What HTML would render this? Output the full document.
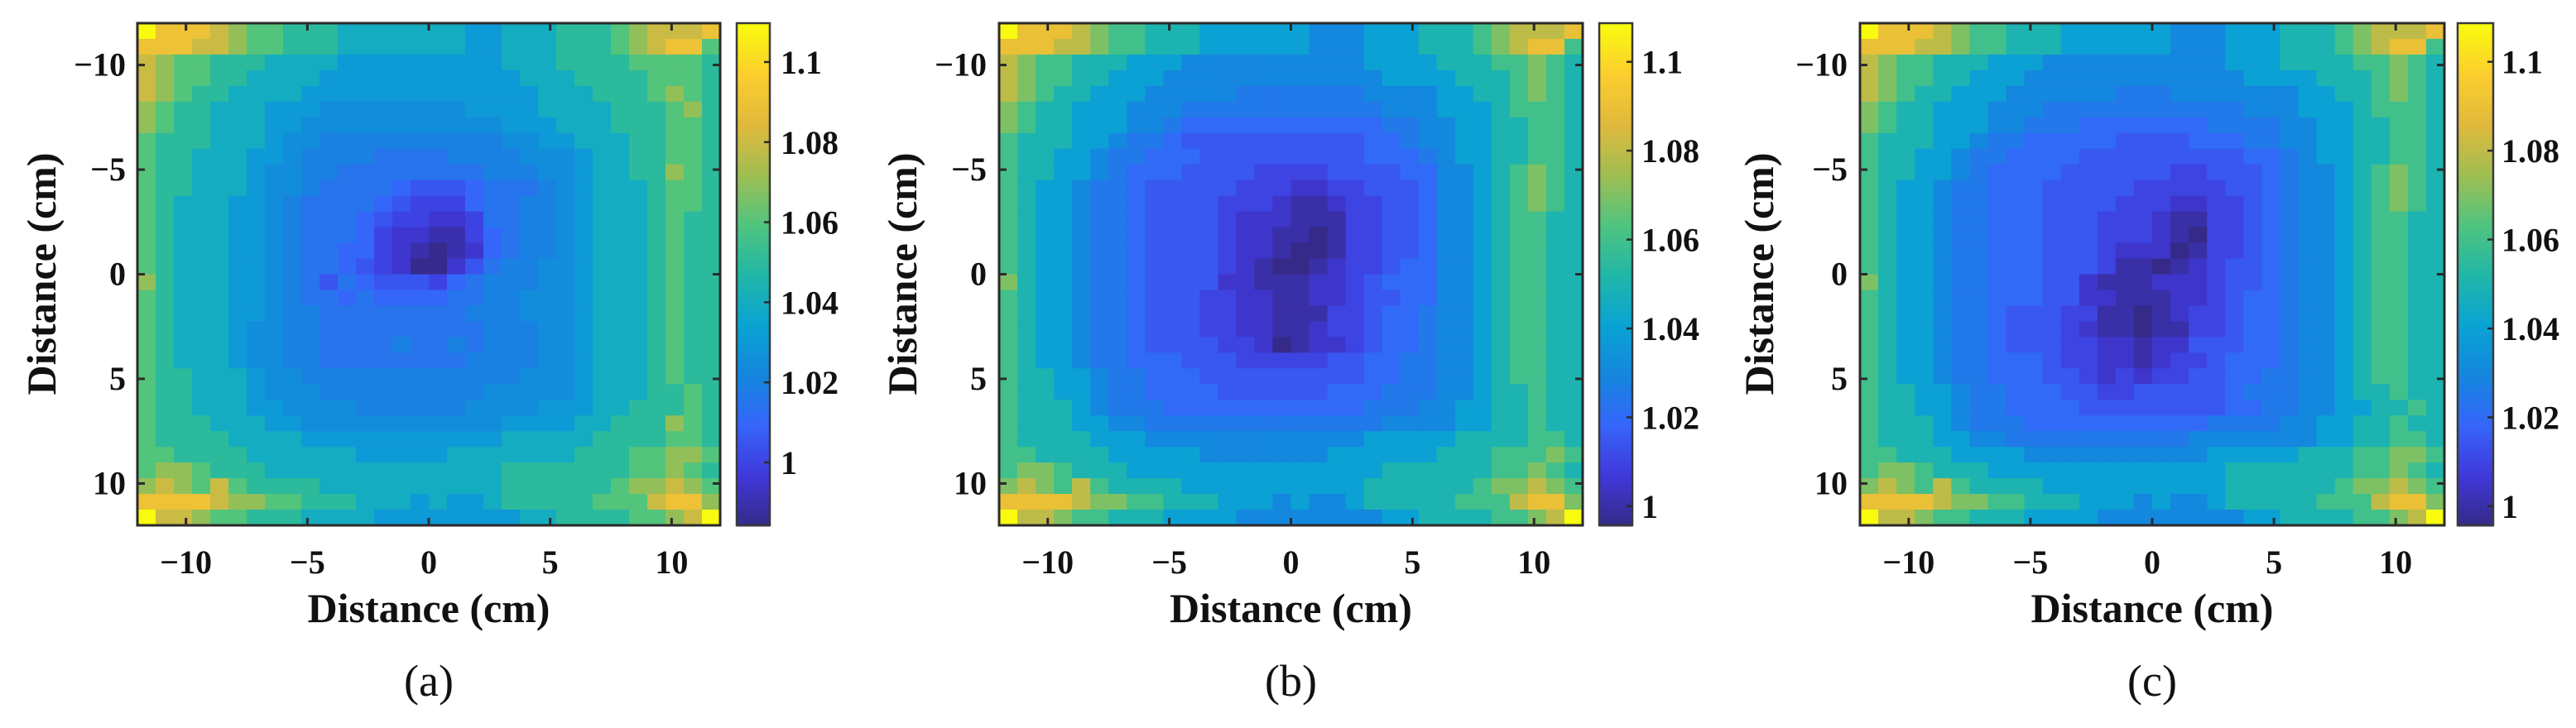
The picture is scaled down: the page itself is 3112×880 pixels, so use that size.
<!DOCTYPE html>
<html><head><meta charset="utf-8"><style>
html,body{margin:0;padding:0;background:#fff;}
svg{display:block;}
text{font-family:"Liberation Serif","Times New Roman",serif;fill:#111;}
</style></head><body>
<svg id="fig" width="3112" height="880" viewBox="0 0 3112 880" xmlns="http://www.w3.org/2000/svg"></svg>
<script>
// ---- data: each char = level; value = 0.98 + level*0.005 (level base-36) ----
const rowsA = [
"qmmmkigg eeeccccc ccaaccce eegikkkm","mmmkkigg eeeccccc ccaaccce eegikmmg",
"kiggeeec cccaaaaa aaaaccce eeegggge","kiggeecc ccaaaaaa aaaaaccc eeeeggge",
"kigeeccc caaaaaaa aaaaaacc ceeegige","igeeccca aa999999 99aaaacc cceeegie",
"igeeccca a9999999 9999aaac cceeegge","geeeccca 99888888 888899aa ccceegge",
"geecccaa 98888777 78888999 acceegge","geeccca9 98877777 77788899 acceeige",
"geeccca9 98777765 55677789 acccegge","gecccaa9 87777654 44677889 acccegge",
"gecccaa9 87776544 33477889 acccegee","gecccaa9 87776433 22467889 acccegee",
"gecccaa9 87766432 12367889 acccegee","gecccaa9 87765431 13578899 acccegee",
"iecccaa9 87576555 46788899 acccegee","gecccaa9 87767666 67788999 acccegee",
"gecccaa9 88777777 77888999 acccegee","geccca99 88777777 77788899 acccegee",
"geccca99 88777787 78788899 acccegee","geccca99 88777777 77888899 acccegee",
"geeccca9 98888888 88888999 acccegee","geeccca9 99888888 88899999 accceege",
"geecccaa 99998888 889999aa acceeege","geeeccca a9999999 9999aaaa cceeeige",
"geeeeccc caaaaaaa aaaacccc ceeeegge","ggeeeecc ccccaaaa accccccc eeeggiig",
"giigeeec cccccccc cccceeee eeeggige","ikigkgee eecccccc cccceeee eegiikig",
"mmmmkiig geeeccca caaceeee egggkmmi","qkkiggee eccccaaa aaaaacce eeeggikq"];
const rowsB = [
"qmmmkigg eeeccccc caaaccce eegikkkm","mmmkkigg eeeccccc caaaccce eegikmmg",
"kiggeeec ccaaaaaa aaaacccc eeeggige","kiggeecc caaaaaaa aaaaaccc ceeegige",
"kigeeccc aaaaa999 9999aaaa cceegige","igeeccca aa999999 99999aaa ccceggge",
"igeeccca a9888888 8888899a acceegge","geeecca9 98777777 7777889a acceegge",
"geecca99 88877777 77778889 acceegge","geecca98 88777766 66777788 aacegige",
"gecca998 77777666 55667778 aacegige","gecca998 77776665 44566778 aacegige",
"gecca998 77776555 44466778 aaceggee","gecca998 77776554 43466778 aaceggee",
"gecca998 77776554 33466778 aaceggee","gecca998 77776543 34566788 aaceggee",
"iecca998 77775544 45567888 aaceggee","gecca998 77766554 45567788 aaceggee",
"gecca998 77766554 44667889 aaceggee","gecca998 77766554 45667889 aaceggee",
"gecca998 77776653 45567889 aaceggee","gecca998 88777666 66778899 aaceggee",
"geecca99 88877777 77778899 aaceggee","geecca99 88887777 77888999 aaceegee",
"geeeca99 98888888 8888999a acceegee","geeeccaa 99999999 99999aaa acceegee",
"geeeeccc aaaaaaaa aaaacccc ceeeegge","ggeeeecc cccaaaaa aacccccc eeegggig",
"giigeeec cccccccc ccccceee eeeggige","ikigkgee eecccccc cccceeee eegiikig",
"mmmmkiig geeeccca caaceeee egggkmmi","qkkiggee eccccaaa aaaaacce eeeggikq"];
const rowsC = [
"qmmmkigg eeeccccc caaaccce eegikkkm","mmmkkigg eeeccccc caaaccce eegikmmg",
"kiggeeec ccaaaaaa aaaaccce eeeggige","kiggeecc caaaaaaa aaaaaccc ceeegige",
"kigeeccc aaaaaa99 9aaaaaaa cceegige","igeeccca aa999999 99999aaa ccceggge",
"igeeccca a9998888 8889999a acceegge","geeecca9 98888877 7788899a acceegge",
"geecca99 88887777 77777889 acceegge","geecca98 88877777 76677789 aacegige",
"gecca998 88777776 66667789 aacegige","gecca998 88777766 65566789 aacegige",
"gecca998 88777666 54466789 aaceggee","gecca998 88777666 54366789 aaceggee",
"gecca998 88777655 53466789 aaceggee","gecca998 88777644 34567789 aaceggee",
"iecca998 88775444 55567789 aaceggee","gecca998 88775544 45567889 aaceggee",
"gecca998 77766443 45667889 aaceggee","gecca998 77765443 44667889 aaceggee",
"gecca998 77766554 55777889 aaceggee","gecca998 88766554 56678889 aaceggee",
"gecca998 88776565 66778899 aaceggee","geecca99 88877667 77778999 aaceegee",
"geecca99 88887777 77778899 aacceege","geeeca99 98888888 8889999a acceegee",
"geeeccaa 99999999 99aaaaaa acceegge","ggeeeccc caaaaaaa aaaccccc eeeggiig",
"giigeeec cccccccc cccceeee eeeggige","ikigkgee eecccccc cccceeee eegiikig",
"mmmmkiig geeeccca caaceeee egggkmmi","qkkiggee eccccaaa aaaaacce eeeggikq"];
const axisTicks = [-10, -5, 0, 5, 10];
const axisTickLabels = ["\u221210", "\u22125", "0", "5", "10"];
const cbTicks = [1, 1.02, 1.04, 1.06, 1.08, 1.1];
const cbTickLabels = ["1", "1.02", "1.04", "1.06", "1.08", "1.1"];
const cbRangeA = [0.9843, 1.1097];
const cbRangeB = [0.9957, 1.1087];
const cbRangeC = [0.9957, 1.1087];
const panelLetters = ["(a)", "(b)", "(c)"];

const NS = "http://www.w3.org/2000/svg";
const svg = document.getElementById("fig");
function mk(tag, attrs, parent){const e=document.createElementNS(NS,tag);for(const k in attrs)e.setAttribute(k,attrs[k]);(parent||svg).appendChild(e);return e;}
const PAR=[[53,42,135],[64,56,218],[54,101,250],[20,134,222],[10,163,211],[33,183,167],[80,196,126],[160,190,82],[225,185,60],[252,206,46],[249,251,14]];
function parula(t){t=Math.max(0,Math.min(1,t));const f=t*10,i=Math.min(9,Math.floor(f)),r=f-i;const a=PAR[i],b=PAR[i+1];return "rgb("+a.map((v,k)=>Math.round(v+(b[k]-v)*r)).join(",")+")";}
function decode(ch){return 0.98+parseInt(ch,36)*0.005;}

const panels=[
 {rows:rowsA,range:cbRangeA,x0:166,x1:870,cbx:890,cbw:40,cblab:943,ylabR:152,ytitle:50,name:"a"},
 {rows:rowsB,range:cbRangeB,x0:1207,x1:1912,cbx:1932,cbw:40,cblab:1983,ylabR:1192,ytitle:1090,name:"b"},
 {rows:rowsC,range:cbRangeC,x0:2247,x1:2953,cbx:2969,cbw:43,cblab:3022,ylabR:2232,ytitle:2125,name:"c"}];
const Y0=28,Y1=635;
panels.forEach((p,pi)=>{
  const g=mk("g",{});
  
  
  const xs=v=>p.x0+(v+12)/24*(p.x1-p.x0);
  const ys=v=>Y0+(v+12)/24*(Y1-Y0);
  const cs=v=>Y1-(v-p.range[0])/(p.range[1]-p.range[0])*(Y1-Y0);
  const hm=mk("g",{},g);
  
  
  const n=32, step=24/n;
  p.rows.forEach((rs,j)=>{
    const s=rs.replace(/\s/g,"");
    for(let i=0;i<n;i++){
      const ch=s[Math.min(i,s.length-1)];
      const v=decode(ch);
      const xa=xs(-12+i*step), xb=xs(-12+(i+1)*step), ya=ys(-12+j*step), yb=ys(-12+(j+1)*step);
      const r=mk("rect",{x:xa.toFixed(2),y:ya.toFixed(2),width:(xb-xa+0.6).toFixed(2),height:(yb-ya+0.6).toFixed(2),fill:parula((v-p.range[0])/(p.range[1]-p.range[0]))},hm);
      
      
    }
  });
  const fr=mk("rect",{x:p.x0,y:Y0,width:p.x1-p.x0,height:Y1-Y0,fill:"none",stroke:"#2a2a2a","stroke-width":3},g);
  
  
  axisTicks.forEach((t,k)=>{
    const X=xs(t),Y=ys(t);
    mk("line",{x1:X,y1:Y1,x2:X,y2:Y1-9,stroke:"#2a2a2a","stroke-width":3},g);
    mk("line",{x1:X,y1:Y0,x2:X,y2:Y0+9,stroke:"#2a2a2a","stroke-width":3},g);
    mk("line",{x1:p.x0,y1:Y,x2:p.x0+9,y2:Y,stroke:"#2a2a2a","stroke-width":3},g);
    mk("line",{x1:p.x1,y1:Y,x2:p.x1-9,y2:Y,stroke:"#2a2a2a","stroke-width":3},g);
    const xl=mk("text",{x:X,y:693,"text-anchor":"middle","font-size":40,"font-weight":"bold"},g);
    xl.textContent=axisTickLabels[k];
    
    
    const yl=mk("text",{x:p.ylabR,y:Y+13,"text-anchor":"end","font-size":40,"font-weight":"bold"},g);
    yl.textContent=axisTickLabels[k];
    
    
  });
  const xt=mk("text",{x:(p.x0+p.x1)/2,y:752,"text-anchor":"middle","font-size":50,"font-weight":"bold"},g);
  xt.textContent="Distance (cm)";
  
  
  const yt=mk("text",{x:0,y:0,"text-anchor":"middle","font-size":50,"font-weight":"bold",transform:"translate("+(p.ytitle+17)+",331) rotate(-90)"},g);
  yt.textContent="Distance (cm)";
  
  
  const pl=mk("text",{x:(p.x0+p.x1)/2,y:841,"text-anchor":"middle","font-size":54},g);
  pl.textContent=panelLetters[pi];
  
  
  const cb=mk("g",{},g);
  
  
  for(let y=Y0;y<Y1;y+=2){
    const v=p.range[1]-(y-Y0)/(Y1-Y0)*(p.range[1]-p.range[0]);
    mk("rect",{x:p.cbx,y:y,width:p.cbw,height:2.5,fill:parula((v-p.range[0])/(p.range[1]-p.range[0]))},cb);
  }
  mk("rect",{x:p.cbx,y:Y0,width:p.cbw,height:Y1-Y0,fill:"none",stroke:"#3a3a3a","stroke-width":2.5},cb);
  cbTicks.forEach((t,k)=>{
    const Y=cs(t);
    mk("line",{x1:p.cbx+p.cbw,y1:Y,x2:p.cbx+p.cbw-7,y2:Y,stroke:"#2a2a2a","stroke-width":2.5},cb);
    const tl=mk("text",{x:p.cblab,y:Y+14,"font-size":40,"font-weight":"bold"},cb);
    tl.textContent=cbTickLabels[k];
    
    
  });
});
</script>
</body></html>
